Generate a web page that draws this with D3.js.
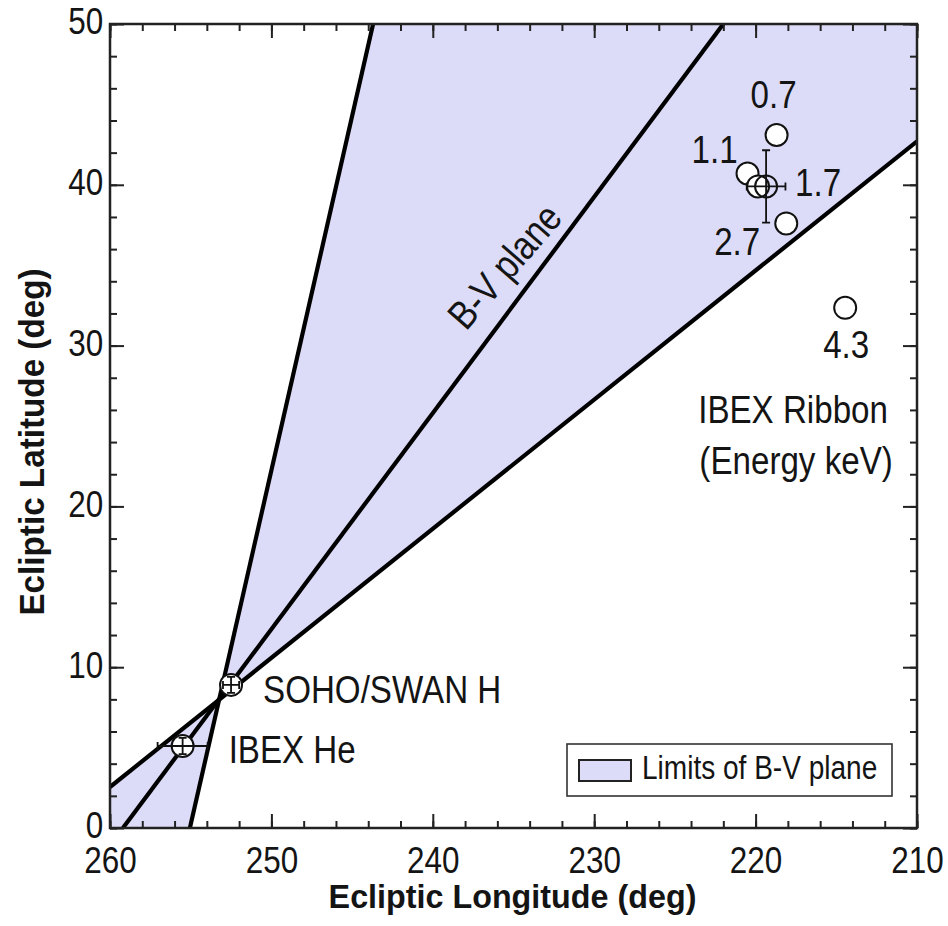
<!DOCTYPE html>
<html>
<head>
<meta charset="utf-8">
<script src="https://cdn.jsdelivr.net/npm/d3@7"></script>
<style>
  body { margin: 0; background: #fff; }
  text { font-family: "Liberation Sans", Arial, Helvetica, sans-serif; fill: #141414; }
</style>
</head>
<body>
<div id="grafica"></div>
<script>
// ---- data (deg) ----
var lonMajor = [260, 250, 240, 230, 220, 210];
var latMajor = [0, 10, 20, 30, 40, 50];
var lonMinor = d3.range(260, 209, -2);
var latMinor = d3.range(0, 51, 2);

// limits of the B-V plane and the B-V plane itself, [lon, lat] end points
var limitSteep   = [[255.05, 0], [243.7, 50]];
var limitShallow = [[260, 2.55], [210, 42.7]];
var bvPlane      = [[259.2, 0], [222.0, 50]];

// IBEX ribbon centres by energy (keV)
var ribbonEnergy = ["0.7", "1.1", "1.7", "2.7", "4.3"];
var ribbonLon    = [218.7, 220.5, 219.85, 218.1, 214.45];
var ribbonLat    = [43.1, 40.7, 39.9, 37.6, 32.35];

// points with error bars: name, lon, lat, dlon, dlat
var errPoints = [
  {name: "SOHO/SWAN H", lon: 252.5, lat: 8.9, dlon: 0.5, dlat: 0.5},
  {name: "IBEX He", lon: 255.5, lat: 5.1, dlon: 1.55, dlat: 0.5},
  {name: "", lon: 219.35, lat: 39.9, dlon: 1.2, dlat: 2.25}
];

var margin = {top: 24, right: 31, bottom: 98, left: 110},
    width = 948 - margin.left - margin.right,
    height = 926 - margin.top - margin.bottom;

var svg = d3.select("#grafica")
  .append("svg")
    .attr("width", 948)
    .attr("height", 926)
  .append("g")
    .attr("transform", "translate(" + margin.left + "," + margin.top + ")");

var x = d3.scaleLinear().domain([260, 210]).range([0, width]);
var y = d3.scaleLinear().domain([0, 50]).range([height, 0]);

var fillCol = "#dcdcf9";
var squash = 0.85;   // the original lettering is narrow

function txt(g, px, py, str, size, anchor, weight, rot, sq) {
  return g.append("text")
    .attr("transform", "translate(" + px + "," + py + ")" + (rot ? " rotate(" + rot + ")" : "") + " scale(" + (sq || squash) + ",1)")
    .attr("text-anchor", anchor || "start")
    .style("font-size", size + "px")
    .style("font-weight", weight || "normal")
    .text(str);
}

svg.append("defs").append("clipPath")
    .attr("id", "clip")
  .append("rect")
    .attr("width", width)
    .attr("height", height);

// intersection of the two limit lines
function cross(a, b) {
  var x1 = a[0][0], y1 = a[0][1], x2 = a[1][0], y2 = a[1][1];
  var x3 = b[0][0], y3 = b[0][1], x4 = b[1][0], y4 = b[1][1];
  var den = (x1 - x2) * (y3 - y4) - (y1 - y2) * (x3 - x4);
  var t = ((x1 - x3) * (y3 - y4) - (y1 - y3) * (x3 - x4)) / den;
  return [x1 + t * (x2 - x1), y1 + t * (y2 - y1)];
}
var P = cross(limitSteep, limitShallow);
var lonD = x.domain(), latD = y.domain();

var wedges = [
  [P, limitSteep[1], [lonD[1], latD[1]], limitShallow[1]],
  [P, limitShallow[0], [lonD[0], latD[0]], limitSteep[0]]
];

var plot = svg.append("g").attr("clip-path", "url(#clip)");
var line = d3.line().x(function(d) { return x(d[0]); }).y(function(d) { return y(d[1]); });

plot.selectAll(".wedge")
  .data(wedges)
  .enter().append("path")
    .attr("class", "wedge")
    .attr("fill", fillCol)
    .attr("d", function(d) { return line(d) + "Z"; });

plot.selectAll(".bline")
  .data([limitSteep, limitShallow, bvPlane])
  .enter().append("path")
    .attr("class", "bline")
    .attr("fill", "none")
    .attr("stroke", "#000")
    .attr("stroke-width", 4.2)
    .attr("d", line);

// ---- axes: inward ticks on all four sides ----
function axis(gen, sc, vals, len, fmt, pad, tr) {
  var g = svg.append("g")
    .attr("transform", tr || null)
    .call(gen(sc).tickValues(vals).tickSize(-len).tickPadding(pad || 3).tickFormat(fmt || ""));
  g.select(".domain").remove();
  g.selectAll("line").attr("stroke", "#222").attr("stroke-width", 2);
  g.selectAll("text")
    .style("font-size", "37px")
    .style("font-family", "Liberation Sans, Arial, sans-serif")
    .attr("fill", "#141414");
  return g;
}
var bot = "translate(0," + height + ")", rgt = "translate(" + width + ",0)";
axis(d3.axisBottom, x, lonMinor, 7, null, 3, bot);
var xb = axis(d3.axisBottom, x, lonMajor, 14, d3.format("d"), 19, bot);
axis(d3.axisTop, x, lonMinor, 7);
axis(d3.axisTop, x, lonMajor, 14);
axis(d3.axisLeft, y, latMinor, 7);
var yl = axis(d3.axisLeft, y, latMajor, 14, d3.format("d"), 8);
axis(d3.axisRight, y, latMinor, 7, null, 3, rgt);
axis(d3.axisRight, y, latMajor, 14, null, 3, rgt);
xb.selectAll("text").attr("transform", "scale(" + squash + ",1)");
yl.selectAll("text").attr("transform", "translate(0,-2) scale(" + squash + ",1)");

svg.append("rect")
  .attr("width", width)
  .attr("height", height)
  .attr("fill", "none")
  .attr("stroke", "#222")
  .attr("stroke-width", 2.5);

// axis titles
txt(svg, width / 2 - 1, height + 80, "Ecliptic Longitude (deg)", 34, "middle", "bold", 0, 0.95);
txt(svg, -66, 418, "Ecliptic Latitude (deg)", 35, "middle", "bold", -90, 0.95);

// ---- IBEX ribbon energies ----
svg.selectAll(".rib")
  .data(ribbonEnergy)
  .enter().append("circle")
    .attr("class", "rib")
    .attr("cx", function(d, i) { return x(ribbonLon[i]); })
    .attr("cy", function(d, i) { return y(ribbonLat[i]); })
    .attr("r", 11)
    .attr("fill", "#fff")
    .attr("stroke", "#111")
    .attr("stroke-width", 2);

// ---- error bar points (drawn over the ribbon circles) ----
var ep = svg.selectAll(".ep")
  .data(errPoints)
  .enter().append("g")
    .attr("class", "ep");
ep.append("circle")
  .attr("cx", function(d) { return x(d.lon); })
  .attr("cy", function(d) { return y(d.lat); })
  .attr("r", 11)
  .attr("fill", function(d) { return d.name ? "#fff" : "none"; })
  .attr("stroke", "#111")
  .attr("stroke-width", 2);
ep.append("path")
  .attr("fill", "none")
  .attr("stroke", "#111")
  .attr("stroke-width", 1.8)
  .attr("d", function(d) {
    var cx = x(d.lon), cy = y(d.lat);
    var x0 = x(d.lon + d.dlon), x1 = x(d.lon - d.dlon);
    var y0 = y(d.lat + d.dlat), y1 = y(d.lat - d.dlat);
    return "M" + x0 + "," + cy + "H" + x1 +
      "M" + cx + "," + y0 + "V" + y1 +
      "M" + x0 + "," + (cy - 4) + "V" + (cy + 4) +
      "M" + x1 + "," + (cy - 4) + "V" + (cy + 4) +
      "M" + (cx - 4) + "," + y0 + "H" + (cx + 4) +
      "M" + (cx - 4) + "," + y1 + "H" + (cx + 4);
  });

// label offsets from each circle
var ribOff = [[-3, -27, "middle"], [-33, -11, "middle"], [37, 10, "start"], [-26, 32, "end"], [1, 50, "middle"]];
ribbonEnergy.forEach(function(e, i) {
  txt(svg, x(ribbonLon[i]) + ribOff[i][0], y(ribbonLat[i]) + ribOff[i][1], e, 39, ribOff[i][2]);
});

// point names
txt(svg, x(errPoints[0].lon) + 32, y(errPoints[0].lat) + 18, errPoints[0].name, 39);
txt(svg, x(errPoints[1].lon) + 46, y(errPoints[1].lat) + 17, errPoints[1].name, 39);

// annotations
txt(svg, x(211.8), y(25.2), "IBEX Ribbon", 39, "end");
txt(svg, x(211.5), y(22.0), "(Energy keV)", 39, "end");
txt(svg, x(235.4) + 8, y(34.8) + 7, "B-V plane", 40, "middle", "normal", -49);

// legend
var leg = svg.append("g").attr("transform", "translate(" + (width - 350) + "," + (height - 84) + ")");
leg.append("rect")
  .attr("width", 325)
  .attr("height", 52)
  .attr("fill", "#fff")
  .attr("stroke", "#333")
  .attr("stroke-width", 1.6);
leg.append("rect")
  .attr("x", 12)
  .attr("y", 16)
  .attr("width", 52)
  .attr("height", 21)
  .attr("fill", fillCol)
  .attr("stroke", "#222")
  .attr("stroke-width", 2);
txt(leg, 75, 35, "Limits of B-V plane", 33);
</script>
</body>
</html>
